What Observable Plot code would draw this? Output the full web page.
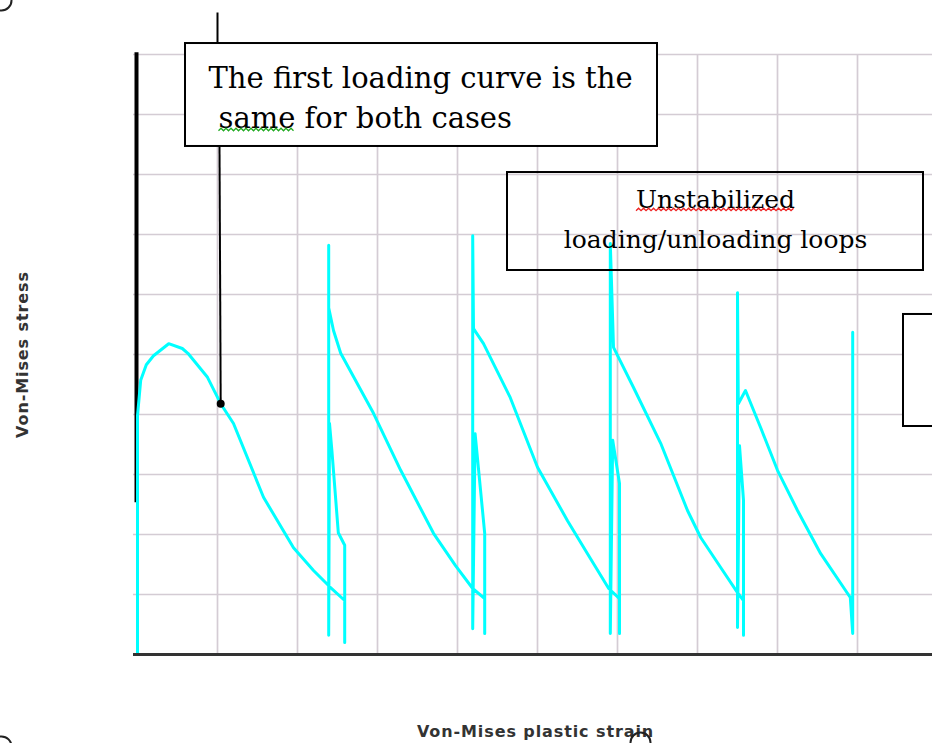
<!DOCTYPE html>
<html><head><meta charset="utf-8">
<script src="https://cdn.jsdelivr.net/npm/d3@7"></script>
<script src="https://cdn.jsdelivr.net/npm/@observablehq/plot@0.6"></script>
<style>
body{margin:0;background:#fff;}
#chart svg{display:block;overflow:visible}
</style>
</head><body><div id="chart"></div>
<script>
// Von-Mises plastic strain (grid units) and Von-Mises stress (grid units)
const strain = [0,0,0.04,0.11,0.2,0.39,0.56,0.63,0.875,1.04,1.2,1.575,1.95,2.2,2.41,2.59,2.59,2.59,2.51,2.43,2.4,2.39,2.39,2.39,2.45,2.54,2.95,3.29,3.7,3.975,4.19,4.34,4.34,4.34,4.22,4.19,4.19,4.2,4.325,4.66,5.0,5.375,5.625,5.89,6.025,6.025,6.025,5.94,5.91,5.91,5.95,6.2,6.54,6.875,7.04,7.29,7.5,7.575,7.575,7.575,7.525,7.5,7.5,7.51,7.6,7.79,8.0,8.25,8.54,8.91,8.94,8.94];
const stress = [0,3.98,4.57,4.83,4.98,5.18,5.1,5.02,4.62,4.18,3.85,2.62,1.78,1.4,1.12,0.9,0.2,1.82,2.03,3.4,3.85,0.32,6.82,5.78,5.4,5.02,4.02,3.07,2.02,1.48,1.1,0.93,0.35,2.02,3.68,0.43,6.98,5.43,5.18,4.28,3.12,2.23,1.68,1.1,0.93,0.35,2.85,3.57,0.35,6.85,5.12,4.45,3.52,2.4,1.95,1.45,1.03,0.9,0.32,2.57,3.48,0.45,6.03,4.18,4.4,3.78,3.07,2.4,1.68,0.95,0.35,5.37];

const gridX = [1,2,3,4,5,6,7,8,9];
const gridY = [1,2,3,4,5,6,7,8,9,10];

// annotation boxes (data units)
const boxX1 = [0.6, 4.625, 9.575];
const boxX2 = [6.5, 9.825, 10.2];
const boxY1 = [8.467, 6.4, 3.8];
const boxY2 = [10.183, 8.033, 5.667];
const boxFill = ["white", "none", "white"];

// annotation texts
const leftNotes = ["The first loading curve is the", "same for both cases"];
const leftX = [0.8875, 1.0125];
const leftY = [9.45, 8.783];
const centerNotes = ["Unstabilized", "loading/unloading loops"];
const centerX = [7.225, 7.225];
const centerY = [7.45, 6.783];

// leader line and marker
const leadX1 = [1.0, 1.025], leadY1 = [10.7, 8.467];
const leadX2 = [1.0, 1.04], leadY2 = [10.183, 4.18];
const markX = [1.04], markY = [4.18];

// selection handles
const handleX = [-1.7, -1.7, 6.2875];
const handleY = [10.9, -1.533, -1.467];

const curve = strain.map((x, i) => ({x, y: stress[i]}));
const boxes = boxX1.map((x1, i) => ({x1, x2: boxX2[i], y1: boxY1[i], y2: boxY2[i], fill: boxFill[i]}));
const lNotes = leftNotes.map((t, i) => ({t, x: leftX[i], y: leftY[i]}));
const cNotes = centerNotes.map((t, i) => ({t, x: centerX[i], y: centerY[i]}));
const leads = leadX1.map((x1, i) => ({x1, y1: leadY1[i], x2: leadX2[i], y2: leadY2[i]}));

const serif = {fontFamily: "DejaVu Serif", fill: "black", lineAnchor: "bottom"};

const chart = Plot.plot({
  width: 932, height: 743,
  marginLeft: 137, marginRight: 0, marginTop: 54, marginBottom: 89,
  x: {domain: [0, 9.9375], axis: null},
  y: {domain: [0, 10], axis: null},
  style: {background: "white"},
  marks: [
    Plot.ruleX(gridX, {x: d => d, y1: 0, y2: 10, stroke: "#d4ccd4", strokeWidth: 1.7}),
    Plot.ruleY(gridY, {y: d => d, x1: -0.05, x2: 9.9375, stroke: "#d4ccd4", strokeWidth: 1.7}),
    Plot.ruleX([0], {x: d => d, y1: 2.53, y2: 10.03, stroke: "black", strokeWidth: 4, dx: -1}),
    Plot.line(curve, {x: "x", y: "y", stroke: "#00ffff", strokeWidth: 3, strokeLinejoin: "round", curve: "linear"}),
    Plot.ruleY([0], {y: d => d, x1: -0.05, x2: 9.9375, stroke: "#333", strokeWidth: 3}),
    Plot.rect(boxes, {x1: "x1", x2: "x2", y1: "y1", y2: "y2", fill: "fill", stroke: "black", strokeWidth: 2}),
    Plot.link(leads, {x1: "x1", y1: "y1", x2: "x2", y2: "y2", stroke: "black", strokeWidth: 2}),
    Plot.dot(markX.map((x, i) => ({x, y: markY[i]})), {x: "x", y: "y", r: 4, fill: "black"}),
    Plot.text(lNotes, {x: "x", y: "y", text: "t", textAnchor: "start", fontSize: 29, ...serif}),
    Plot.text(cNotes, {x: "x", y: "y", text: "t", textAnchor: "middle", fontSize: 25, ...serif}),
    Plot.text(["Von-Mises plastic strain"], {x: 4.975, y: -1.367, text: d => d, lineAnchor: "bottom", fontFamily: "DejaVu Sans", fontWeight: "bold", fontSize: 16, fill: "#333"}),
    Plot.text(["Von-Mises stress"], {x: -1.375, y: 5.0, text: d => d, rotate: -90, lineAnchor: "bottom", fontFamily: "DejaVu Sans", fontWeight: "bold", fontSize: 16, fill: "#333"}),
    Plot.dot(handleX.map((x, i) => ({x, y: handleY[i]})), {x: "x", y: "y", r: 10, stroke: "#222", strokeWidth: 2, fill: "none"})
  ]
});
document.getElementById("chart").appendChild(chart);

const svg = d3.select(chart);
svg.selectAll("text").each(function() {
  const t = d3.select(this).text();
  if (t === "Von-Mises plastic strain" || t === "Von-Mises stress") d3.select(this).style("letter-spacing", "0.9px");
});

// spell-check style wavy underlines
function wavy(node, color) {
  const sr = chart.getBoundingClientRect();
  const r = node.getBoundingClientRect();
  const x0 = r.left - sr.left, x1 = r.right - sr.left;
  const yb = r.top - sr.top + r.height * 0.8 + 3;
  let d = `M${x0},${yb}`;
  let up = true;
  for (let x = x0 + 2.5; x <= x1; x += 2.5) { d += `L${x},${up ? yb - 2.5 : yb}`; up = !up; }
  svg.append("path").attr("d", d).attr("fill", "none").attr("stroke", color).attr("stroke-width", 1.3);
}
svg.selectAll("text").each(function() {
  const el = d3.select(this);
  const t = el.text();
  if (t === "same for both cases") {
    el.text(null);
    const s = el.append("tspan").text("same");
    el.append("tspan").text(" for both cases");
    wavy(s.node(), "#2a2");
  } else if (t === "Unstabilized") {
    wavy(this, "#e22");
  }
});
</script>
</body></html>
